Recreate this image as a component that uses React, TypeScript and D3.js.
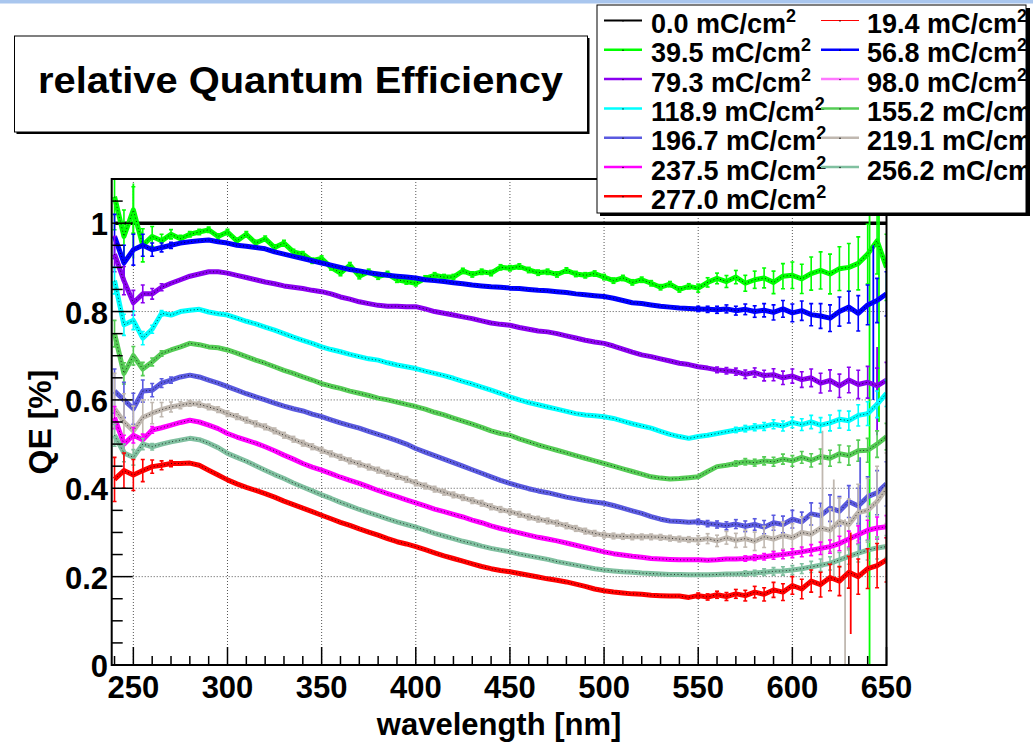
import React from "react";
import * as d3 from "d3";

// ---------- data ----------
const WAVELENGTHS: number[] = d3.range(240, 651, 5);

const QE_0_0 = [
  1, 1, 1, 1, 1, 1, 1, 1, 1, 1, 1, 1, 1, 1, 1, 1, 1, 1, 1, 1,
  1, 1, 1, 1, 1, 1, 1, 1, 1, 1, 1, 1, 1, 1, 1, 1, 1, 1, 1, 1,
  1, 1, 1, 1, 1, 1, 1, 1, 1, 1, 1, 1, 1, 1, 1, 1, 1, 1, 1, 1,
  1, 1, 1, 1, 1, 1, 1, 1, 1, 1, 1, 1, 1, 1, 1, 1, 1, 1, 1, 1,
  1, 1, 1,
];
const QE_39_5 = [
  1.06, 0.97, 1.03, 0.95, 0.97, 0.96, 0.975, 0.965, 0.975, 0.98,
  0.985, 0.97, 0.98, 0.96, 0.975, 0.955, 0.965, 0.945, 0.955, 0.935,
  0.93, 0.915, 0.92, 0.9, 0.887, 0.905, 0.88, 0.89, 0.879, 0.885,
  0.872, 0.868, 0.864, 0.875, 0.882, 0.878, 0.878, 0.892, 0.884, 0.89,
  0.887, 0.9, 0.898, 0.902, 0.894, 0.888, 0.89, 0.884, 0.893, 0.885,
  0.882, 0.886, 0.878, 0.87, 0.876, 0.866, 0.872, 0.864, 0.855, 0.862,
  0.85, 0.857, 0.853, 0.866, 0.875, 0.868, 0.878, 0.864, 0.872, 0.876,
  0.866, 0.88, 0.882, 0.874, 0.886, 0.893, 0.885, 0.897, 0.9, 0.909,
  0.93, 0.96, 0.9,
];
const QE_56_8 = [
  0.97, 0.91, 0.94, 0.95, 0.94, 0.945, 0.95, 0.955, 0.958, 0.96,
  0.962, 0.958, 0.955, 0.95, 0.948, 0.945, 0.942, 0.935, 0.93, 0.925,
  0.92, 0.915, 0.91, 0.905, 0.9, 0.895, 0.892, 0.888, 0.885, 0.882,
  0.88, 0.878, 0.876, 0.872, 0.87, 0.868, 0.865, 0.863, 0.86, 0.858,
  0.856, 0.855, 0.853, 0.852, 0.85, 0.848, 0.847, 0.845, 0.843, 0.84,
  0.838, 0.836, 0.834, 0.83, 0.825, 0.82, 0.818, 0.815, 0.812, 0.81,
  0.808, 0.807, 0.806, 0.805, 0.804, 0.806, 0.802, 0.805, 0.8, 0.803,
  0.798, 0.806, 0.797, 0.802, 0.793, 0.79, 0.785, 0.8, 0.81, 0.796,
  0.815, 0.825, 0.84,
];
const QE_79_3 = [
  0.93, 0.87, 0.82, 0.84, 0.84, 0.855, 0.864, 0.872, 0.88, 0.885,
  0.89, 0.89, 0.887, 0.882, 0.877, 0.872, 0.867, 0.863, 0.858, 0.855,
  0.852, 0.848, 0.845, 0.84, 0.833, 0.828, 0.822, 0.818, 0.814, 0.812,
  0.812, 0.811, 0.811, 0.806, 0.8, 0.796, 0.792, 0.788, 0.784, 0.779,
  0.774, 0.771, 0.769, 0.764, 0.76, 0.756, 0.754, 0.75, 0.745, 0.74,
  0.735, 0.731, 0.728, 0.722, 0.715, 0.708, 0.702, 0.698, 0.693, 0.688,
  0.683, 0.68, 0.675, 0.672, 0.668, 0.666, 0.664, 0.658, 0.662, 0.655,
  0.657, 0.65, 0.654, 0.646, 0.65, 0.638, 0.644, 0.632, 0.645, 0.635,
  0.64, 0.632, 0.645,
];
const QE_118_9 = [
  0.87, 0.77, 0.78, 0.74, 0.76, 0.796, 0.792, 0.8, 0.803, 0.805,
  0.799, 0.795, 0.792, 0.785, 0.778, 0.772, 0.765, 0.758, 0.75, 0.742,
  0.735, 0.728, 0.72, 0.714, 0.709, 0.703, 0.698, 0.693, 0.69, 0.684,
  0.679, 0.675, 0.671, 0.665, 0.66, 0.655, 0.649, 0.642, 0.636, 0.629,
  0.622, 0.615, 0.607, 0.6, 0.594, 0.589, 0.584, 0.579, 0.574, 0.569,
  0.566, 0.564, 0.562, 0.558, 0.552, 0.546, 0.541, 0.536, 0.529, 0.522,
  0.517, 0.513, 0.517, 0.52, 0.524, 0.528, 0.532, 0.535, 0.538, 0.54,
  0.545, 0.541, 0.549, 0.544, 0.55, 0.543, 0.548, 0.556, 0.553, 0.565,
  0.569, 0.59, 0.615,
];
const QE_155_2 = [
  0.75, 0.66, 0.7, 0.67, 0.686, 0.705, 0.713, 0.72, 0.728, 0.725,
  0.72, 0.718, 0.713, 0.706, 0.698, 0.69, 0.683, 0.675, 0.667, 0.66,
  0.652, 0.645, 0.637, 0.631, 0.626, 0.62, 0.615, 0.61, 0.604, 0.6,
  0.595, 0.59, 0.585, 0.579, 0.572, 0.566, 0.559, 0.552, 0.545, 0.538,
  0.53, 0.524, 0.52, 0.512, 0.505, 0.498, 0.492, 0.486, 0.48, 0.474,
  0.468, 0.462, 0.456, 0.45, 0.444, 0.438, 0.432, 0.426, 0.423, 0.421,
  0.422, 0.424, 0.426, 0.438, 0.449, 0.452, 0.456, 0.46, 0.458, 0.462,
  0.46, 0.466, 0.462, 0.47, 0.463, 0.472, 0.468, 0.478, 0.474, 0.485,
  0.486, 0.5, 0.517,
];
const QE_196_7 = [
  0.62, 0.6, 0.58, 0.62, 0.622, 0.638, 0.645, 0.652, 0.656, 0.652,
  0.645, 0.638, 0.63, 0.622, 0.614, 0.607, 0.6, 0.593, 0.586, 0.58,
  0.575, 0.568, 0.562, 0.555, 0.548, 0.542, 0.536, 0.529, 0.522, 0.515,
  0.508, 0.5, 0.49, 0.482, 0.474, 0.466, 0.458, 0.45, 0.442, 0.434,
  0.426, 0.418, 0.411, 0.405, 0.399, 0.394, 0.39, 0.385, 0.38, 0.376,
  0.372, 0.369, 0.366, 0.361, 0.355, 0.349, 0.343, 0.336, 0.33, 0.326,
  0.325, 0.323, 0.324, 0.32, 0.318, 0.315, 0.319, 0.314, 0.318, 0.312,
  0.322, 0.318, 0.33, 0.324, 0.342, 0.338, 0.355, 0.348, 0.37, 0.36,
  0.381, 0.39, 0.41,
];
const QE_219_1 = [
  0.58, 0.55, 0.53, 0.56, 0.57, 0.578, 0.584, 0.588, 0.592, 0.59,
  0.584, 0.578, 0.569, 0.562, 0.554, 0.546, 0.539, 0.53, 0.52, 0.511,
  0.502, 0.494, 0.486, 0.478, 0.47, 0.462, 0.455, 0.448, 0.441, 0.434,
  0.427, 0.42, 0.412, 0.405, 0.398, 0.391, 0.385, 0.379, 0.372, 0.366,
  0.358, 0.352, 0.347, 0.341, 0.335, 0.33, 0.326, 0.321, 0.315, 0.309,
  0.303, 0.298, 0.294, 0.292, 0.291, 0.29, 0.29, 0.29, 0.289, 0.287,
  0.285, 0.284, 0.283, 0.286, 0.281, 0.288, 0.282, 0.286, 0.28, 0.29,
  0.285, 0.293, 0.288, 0.3, 0.296, 0.31, 0.305, 0.325, 0.318, 0.345,
  0.35, 0.37, 0.4,
];
const QE_237_5 = [
  0.56, 0.5, 0.52, 0.51, 0.532, 0.537, 0.543, 0.549, 0.554, 0.55,
  0.543, 0.535, 0.524, 0.516, 0.509, 0.502, 0.494, 0.485, 0.475, 0.466,
  0.456, 0.448, 0.441, 0.433, 0.425, 0.418, 0.411, 0.403, 0.395, 0.388,
  0.381, 0.374, 0.367, 0.36, 0.353, 0.347, 0.341, 0.335, 0.328, 0.322,
  0.315, 0.309, 0.304, 0.299, 0.294, 0.289, 0.285, 0.281, 0.276, 0.271,
  0.266, 0.261, 0.256, 0.252, 0.249, 0.246, 0.244, 0.241, 0.24, 0.239,
  0.238, 0.238, 0.238, 0.237, 0.238, 0.24, 0.24, 0.241, 0.243, 0.245,
  0.248, 0.25, 0.253, 0.256, 0.26, 0.264, 0.268, 0.275, 0.285, 0.295,
  0.305, 0.31, 0.313,
];
const QE_256_2 = [
  0.52, 0.48, 0.47, 0.5, 0.494, 0.5, 0.505, 0.509, 0.513, 0.51,
  0.502, 0.492, 0.479, 0.47, 0.461, 0.451, 0.441, 0.431, 0.422, 0.412,
  0.403, 0.394, 0.385, 0.377, 0.368, 0.36, 0.352, 0.345, 0.338, 0.331,
  0.324, 0.318, 0.312, 0.305, 0.298, 0.292, 0.286, 0.28, 0.275, 0.269,
  0.264, 0.26, 0.256, 0.251, 0.247, 0.243, 0.239, 0.234, 0.23, 0.226,
  0.222, 0.218, 0.215, 0.213, 0.211, 0.21, 0.208, 0.207, 0.206, 0.205,
  0.205, 0.204, 0.204, 0.204, 0.205, 0.206, 0.206, 0.207, 0.208, 0.21,
  0.212, 0.213, 0.215, 0.218, 0.222, 0.226, 0.23, 0.238, 0.246, 0.253,
  0.26, 0.265, 0.268,
];
const QE_277_0 = [
  0.42, 0.44, 0.43, 0.44, 0.449, 0.452, 0.456, 0.456, 0.457, 0.452,
  0.441, 0.43, 0.419, 0.41, 0.402, 0.395, 0.388, 0.38, 0.371, 0.363,
  0.355, 0.347, 0.339, 0.331, 0.323, 0.316, 0.308, 0.301, 0.294, 0.286,
  0.279, 0.274, 0.268, 0.261, 0.254, 0.247, 0.241, 0.235, 0.229, 0.223,
  0.218, 0.214, 0.211, 0.207, 0.203, 0.199, 0.195, 0.192, 0.188, 0.183,
  0.178, 0.172, 0.168, 0.165, 0.163, 0.161, 0.16, 0.158, 0.157, 0.156,
  0.156, 0.153, 0.157, 0.154, 0.159, 0.155, 0.161, 0.157, 0.165, 0.16,
  0.17, 0.165, 0.18, 0.172, 0.19, 0.182, 0.198, 0.19, 0.21, 0.2,
  0.218, 0.225, 0.238,
];

// shared measurement uncertainty profile along wavelength
const ERR_PROFILE = [
  0.05, 0.04, 0.035, 0.025, 0.015, 0.01, 0.007, 0.005,
  0.004, 0.004, 0.004, 0.004, 0.004, 0.004, 0.004, 0.004, 0.004, 0.004,
  0.004, 0.004, 0.004, 0.004, 0.004, 0.004, 0.004, 0.004, 0.004, 0.004,
  0.004, 0.004, 0.004, 0.004, 0.004, 0.004, 0.004, 0.004, 0.004, 0.004,
  0.004, 0.004, 0.004, 0.004, 0.004, 0.004, 0.004, 0.004, 0.004, 0.004,
  0.004, 0.004, 0.004, 0.004, 0.004, 0.004, 0.004, 0.004, 0.004, 0.004,
  0.004, 0.004, 0.004, 0.004,
  0.006, 0.007, 0.008, 0.009, 0.01, 0.012, 0.013, 0.015, 0.017, 0.019,
  0.02, 0.022, 0.025, 0.028, 0.03, 0.033, 0.036, 0.04, 0.045, 0.05, 0.05,
];

// isolated large error bars
const SPIKE_SERIES = ["39.5", "39.5", "39.5", "219.1", "219.1", "219.1", "56.8", "79.3", "277.0", "196.7"];
const SPIKE_WL = [641, 646, 250, 616, 628, 622, 643, 645, 631, 636];
const SPIKE_LO = [0.0, 0.55, 0.92, 0.22, 0.0, 0.2, 0.6, 0.52, 0.07, 0.25];
const SPIKE_HI = [1.1, 1.1, 1.09, 0.53, 0.33, 0.42, 0.95, 0.72, 0.3, 0.47];

const LEGEND_LABELS = ["0.0", "19.4", "39.5", "56.8", "79.3", "98.0", "118.9", "155.2", "196.7", "219.1", "237.5", "256.2", "277.0"];
const X_TICKS = [250, 300, 350, 400, 450, 500, 550, 600, 650];
const Y_TICKS = [0, 0.2, 0.4, 0.6, 0.8, 1];
const Y_TICK_LABELS = ["0", "0.2", "0.4", "0.6", "0.8", "1"];

type Series = { label: string; values: number[] | null; color: string; errScale: number; legendWidth: number };

const SERIES: Series[] = [
  { label: "0.0", values: QE_0_0, color: "#000000", errScale: 0, legendWidth: 2 },
  { label: "19.4", values: null, color: "#ff0000", errScale: 0, legendWidth: 1 },
  { label: "39.5", values: QE_39_5, color: "#00ff00", errScale: 1.5, legendWidth: 2.5 },
  { label: "56.8", values: QE_56_8, color: "#0000ff", errScale: 1.0, legendWidth: 2.5 },
  { label: "79.3", values: QE_79_3, color: "#8a00f0", errScale: 0.8, legendWidth: 2.5 },
  { label: "98.0", values: null, color: "#ff77ff", errScale: 0, legendWidth: 2.5 },
  { label: "118.9", values: QE_118_9, color: "#00ffff", errScale: 0.6, legendWidth: 2.5 },
  { label: "155.2", values: QE_155_2, color: "#55cc55", errScale: 0.6, legendWidth: 2.5 },
  { label: "196.7", values: QE_196_7, color: "#5a5ae0", errScale: 1.0, legendWidth: 2.5 },
  { label: "219.1", values: QE_219_1, color: "#c0b8b0", errScale: 1.6, legendWidth: 2.5 },
  { label: "237.5", values: QE_237_5, color: "#ff00ff", errScale: 0.5, legendWidth: 2.5 },
  { label: "256.2", values: QE_256_2, color: "#80c0a0", errScale: 0.5, legendWidth: 2.5 },
  { label: "277.0", values: QE_277_0, color: "#ff0000", errScale: 1.0, legendWidth: 2.5 },
];

// ---------- layout ----------
const W = 1033;
const H = 745;
const PL = 111.7, PR = 886.5, PT = 179, PB = 665;
const FONT = "'Liberation Sans', Arial, Helvetica, sans-serif";

export default function App() {
  const x = d3.scaleLinear().domain([238.5, 650]).range([PL, PR]);
  const y = d3.scaleLinear().domain([0, 1.1]).range([PB, PT]);
  const line = d3
    .line<number>()
    .x((_, i) => x(WAVELENGTHS[i]))
    .y((v) => y(v));

  const xMinor = d3.range(240, 651, 10);
  const yMinor = d3.range(0, 1.101, 0.05);

  const colorOf = (lab: string) => SERIES.find((s) => s.label === lab)!.color;

  const legendRow0 = 20.5;
  const legendStep = 29.3;

  return (
    <svg width={W} height={H} style={{ position: "absolute", left: 0, top: 0, background: "#fff" }}>
      <defs>
        <clipPath id="plotClip">
          <rect x={PL} y={PT} width={PR - PL} height={PB - PT} />
        </clipPath>
        <clipPath id="legClip">
          <rect x={597} y={5} width={429} height={208} />
        </clipPath>
      </defs>
      <rect x={0} y={0} width={W} height={H} fill="#fff" />
      {/* slide strip */}
      <rect x={0} y={0} width={W} height={3.5} fill="#a9c6ee" />

      {/* title box */}
      <rect x={16.5} y={38} width={573} height={96} fill="#000" />
      <rect x={14.5} y={36} width={573} height={96} fill="#fff" stroke="#000" strokeWidth={1} />
      <text
        x={300.5}
        y={93}
        textAnchor="middle"
        fontFamily={FONT}
        fontWeight="bold"
        fontSize={36}
        textLength={525}
        lengthAdjust="spacingAndGlyphs"
      >
        relative Quantum Efficiency
      </text>

      {/* grid */}
      <g stroke="#555" strokeWidth={1} strokeDasharray="1 2">
        {X_TICKS.filter((t) => t < 650).map((t) => (
          <line key={"gx" + t} x1={x(t)} x2={x(t)} y1={PT} y2={PB} />
        ))}
        {Y_TICKS.filter((t) => t > 0).map((t) => (
          <line key={"gy" + t} x1={PL} x2={PR} y1={y(t)} y2={y(t)} />
        ))}
      </g>

      {/* data */}
      <g clipPath="url(#plotClip)">
        {SERIES.filter((s) => s.values).map((s) => {
          const vals = s.values!;
          const isRef = s.label === "0.0";
          return (
            <g key={s.label}>
              {!isRef &&
                vals.map((v, i) => {
                  const e = ERR_PROFILE[i] * s.errScale;
                  if (e < 0.006) return null;
                  const cx = x(WAVELENGTHS[i]);
                  return (
                    <g key={i} stroke={s.color} strokeWidth={1.6}>
                      <line x1={cx} x2={cx} y1={y(v - e)} y2={y(v + e)} />
                      <line x1={cx - 2} x2={cx + 2} y1={y(v - e)} y2={y(v - e)} />
                      <line x1={cx - 2} x2={cx + 2} y1={y(v + e)} y2={y(v + e)} />
                    </g>
                  );
                })}
              {SPIKE_SERIES.map((lab, k) =>
                lab === s.label ? (
                  <line
                    key={"sp" + k}
                    x1={x(SPIKE_WL[k])}
                    x2={x(SPIKE_WL[k])}
                    y1={y(SPIKE_LO[k])}
                    y2={y(SPIKE_HI[k])}
                    stroke={s.color}
                    strokeWidth={1.8}
                  />
                ) : null
              )}
              <path
                d={line(vals) || ""}
                fill="none"
                stroke={s.color}
                strokeWidth={isRef ? 3.5 : 5}
                strokeLinejoin="round"
              />
              {!isRef && (
                <path
                  d={line(vals) || ""}
                  fill="none"
                  stroke="#000"
                  strokeWidth={1}
                  strokeDasharray="1 2.5"
                  opacity={0.75}
                />
              )}
            </g>
          );
        })}
      </g>

      {/* ticks */}
      <g stroke="#000" strokeWidth={1.5}>
        {xMinor.map((t) => {
          const major = t % 50 === 0;
          return <line key={"tx" + t} x1={x(t)} x2={x(t)} y1={PB} y2={PB - (major ? 18 : 9)} />;
        })}
        {yMinor.map((t) => {
          const major = Math.abs(t / 0.2 - Math.round(t / 0.2)) < 1e-6;
          return <line key={"ty" + t.toFixed(2)} x1={PL} x2={PL + (major ? 21 : 11)} y1={y(t)} y2={y(t)} />;
        })}
      </g>

      {/* frame */}
      <rect x={PL} y={PT} width={PR - PL} height={PB - PT} fill="none" stroke="#000" strokeWidth={2} />

      {/* tick labels */}
      <g fontFamily={FONT} fontWeight="bold" fontSize={31} fill="#000">
        {X_TICKS.map((t) => (
          <text key={"lx" + t} x={x(t)} y={698} textAnchor="middle">
            {t}
          </text>
        ))}
        {Y_TICKS.map((t, i) => (
          <text key={"ly" + t} x={108} y={y(t) + 12} textAnchor="end">
            {Y_TICK_LABELS[i]}
          </text>
        ))}
      </g>

      {/* axis titles */}
      <text x={(PL + PR) / 2} y={735} textAnchor="middle" fontFamily={FONT} fontWeight="bold" fontSize={31}>
        wavelength [nm]
      </text>
      <text
        transform={`translate(51, ${(PT + PB) / 2}) rotate(-90)`}
        textAnchor="middle"
        fontFamily={FONT}
        fontWeight="bold"
        fontSize={32}
      >
        QE [%]
      </text>

      {/* legend */}
      <rect x={600} y={8} width={430} height={208} fill="#000" />
      <rect x={597} y={5} width={429} height={208} fill="#fff" stroke="#000" strokeWidth={1} />
      <g clipPath="url(#legClip)">
        {LEGEND_LABELS.map((lab, i) => {
          const col = i % 2;
          const row = Math.floor(i / 2);
          const ry = legendRow0 + row * legendStep;
          const lx1 = col === 0 ? 604 : 821;
          const tx = col === 0 ? 651 : 867;
          const s = SERIES.find((q) => q.label === lab)!;
          return (
            <g key={"lg" + lab}>
              <line x1={lx1} x2={lx1 + 38} y1={ry} y2={ry} stroke={colorOf(lab)} strokeWidth={s.legendWidth} />
              <circle cx={lx1 + 19} cy={ry + 0.5} r={0.7} fill="#000" />
              <text x={tx} y={ry + 12.5} fontFamily={FONT} fontWeight="bold" fontSize={27}>
                {lab} mC/cm
                <tspan dy={-11} fontSize={18}>
                  2
                </tspan>
              </text>
            </g>
          );
        })}
      </g>
    </svg>
  );
}
